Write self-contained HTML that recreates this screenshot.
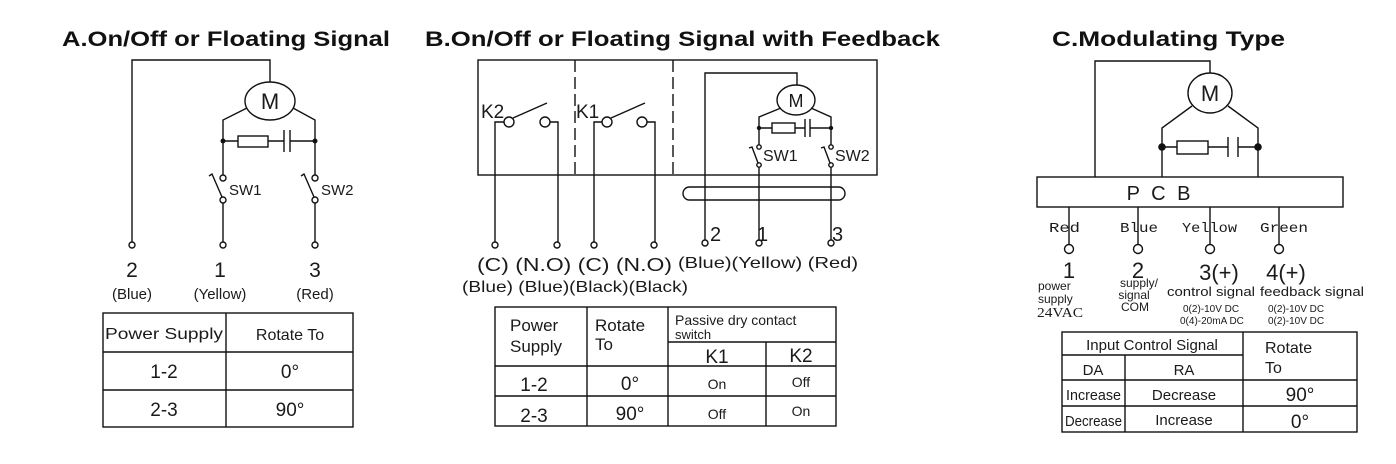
<!DOCTYPE html>
<html><head><meta charset="utf-8"><style>
html,body{margin:0;padding:0;background:#fff;}
svg{display:block;}
text{font-family:"Liberation Sans",Arial,sans-serif;fill:#1a1a1a;}
.t{font-weight:bold;font-size:21px;fill:#111;}
.mono{font-family:"Liberation Mono","DejaVu Sans Mono",monospace;}
.serif{font-family:"Liberation Serif",serif;}
</style></head><body>
<svg width="1396" height="464" viewBox="0 0 1396 464" xmlns="http://www.w3.org/2000/svg">
<rect width="1396" height="464" fill="#fff"/>
<g stroke="#111" stroke-width="1.4" fill="none">
<!-- ===== A ===== -->
<path d="M132,242 V60 H270 V82"/>
<ellipse cx="270" cy="101" rx="25" ry="19"/>
<path d="M247,108 L223,120 V175"/>
<path d="M293,108 L315,120 V175"/>
<path d="M223,141 H238 M268,141 H284 M290,141 H315"/>
<rect x="238" y="136" width="30" height="11"/>
<path d="M284,130 V152 M290,130 V152"/>
<circle cx="223" cy="178" r="3"/><circle cx="223" cy="200" r="3"/>
<path d="M222,197 L212,174 L209,176"/>
<path d="M223,203 V242"/>
<circle cx="315" cy="178" r="3"/><circle cx="315" cy="200" r="3"/>
<path d="M314,197 L304,174 L301,176"/>
<path d="M315,203 V242"/>
<circle cx="132" cy="245" r="3"/><circle cx="223" cy="245" r="3"/><circle cx="315" cy="245" r="3"/>
<rect x="103" y="313" width="250" height="114"/>
<path d="M226,313 V427 M103,352 H353 M103,390 H353"/>
<!-- ===== B ===== -->
<rect x="478" y="60" width="399" height="115"/>
<path d="M575,60 V175 M673,60 V175" stroke-dasharray="12,5"/>
<circle cx="509" cy="122" r="5"/><circle cx="545" cy="122" r="5"/>
<path d="M513,118 L547,103"/>
<path d="M504,122 H495 V242 M550,122 H558 V242"/>
<circle cx="607" cy="122" r="5"/><circle cx="642" cy="122" r="5"/>
<path d="M611,118 L645,103"/>
<path d="M602,122 H594 V242 M647,122 H655 V242"/>
<circle cx="495" cy="245" r="3"/><circle cx="557" cy="245" r="3"/><circle cx="594" cy="245" r="3"/><circle cx="654" cy="245" r="3"/>
<path d="M705,240 V73 H797 V85"/>
<ellipse cx="796" cy="100" rx="19" ry="15"/>
<path d="M781,108 L759,117 V145"/>
<path d="M811,108 L831,117 V145"/>
<path d="M759,128 H772 M795,128 H805 M810,128 H831"/>
<rect x="772" y="123" width="23" height="10"/>
<path d="M805,119 V137 M810,119 V137"/>
<circle cx="759" cy="147" r="2.2"/><circle cx="759" cy="165" r="2.2"/>
<path d="M758,163 L752,147 L749,148"/>
<path d="M759,167 V240"/>
<circle cx="831" cy="147" r="2.2"/><circle cx="831" cy="165" r="2.2"/>
<path d="M830,163 L824,147 L821,148"/>
<path d="M831,167 V240"/>
<circle cx="705" cy="243" r="3"/><circle cx="759" cy="243" r="3"/><circle cx="831" cy="243" r="3"/>
<rect x="683" y="187" width="162" height="13" rx="6.5"/>
<rect x="495" y="307" width="341" height="119"/>
<path d="M587,307 V426 M668,307 V426 M766,342 V426 M668,342 H836 M495,366 H836 M495,396 H836"/>
<!-- ===== C ===== -->
<path d="M1095,177 V61 H1210 V73"/>
<ellipse cx="1210" cy="93" rx="22" ry="20"/>
<path d="M1192,106 L1162,128 V177"/>
<path d="M1228,106 L1258,128 V177"/>
<path d="M1162,147 H1177 M1208,147 H1228 M1238,147 H1258"/>
<rect x="1177" y="141" width="31" height="13"/>
<path d="M1228,137 V157 M1238,137 V157"/>
<rect x="1037" y="177" width="306" height="30"/>
<path d="M1069,207 V244 M1138,207 V244 M1210,207 V244 M1279,207 V244"/>
<circle cx="1069" cy="249" r="4.5"/><circle cx="1138" cy="249" r="4.5"/><circle cx="1210" cy="249" r="4.5"/><circle cx="1279" cy="249" r="4.5"/>
<rect x="1062" y="332" width="295" height="100"/>
<path d="M1243,332 V432 M1125,355 V432 M1062,355 H1243 M1062,380 H1357 M1062,406 H1357"/>
</g>
<g fill="#111">
<circle cx="223" cy="141" r="2.5"/><circle cx="315" cy="141" r="2.5"/>
<circle cx="759" cy="128" r="2.2"/><circle cx="831" cy="128" r="2.2"/>
<circle cx="1162" cy="147" r="3.8"/><circle cx="1258" cy="147" r="3.8"/>
</g>
<!-- titles -->
<text class="t" x="62" y="46" textLength="328" lengthAdjust="spacingAndGlyphs">A.On/Off or Floating Signal</text>
<text class="t" x="425" y="46" textLength="515" lengthAdjust="spacingAndGlyphs">B.On/Off or Floating Signal with Feedback</text>
<text class="t" x="1052" y="46" textLength="233" lengthAdjust="spacingAndGlyphs">C.Modulating Type</text>
<!-- A labels -->
<text x="270" y="109" font-size="22" text-anchor="middle">M</text>
<text x="229" y="195" font-size="15">SW1</text>
<text x="321" y="195" font-size="15">SW2</text>
<text x="132" y="277" font-size="21" text-anchor="middle">2</text>
<text x="220" y="277" font-size="21" text-anchor="middle">1</text>
<text x="315" y="277" font-size="21" text-anchor="middle">3</text>
<text x="132" y="299" font-size="15" text-anchor="middle">(Blue)</text>
<text x="220" y="299" font-size="15" text-anchor="middle">(Yellow)</text>
<text x="315" y="299" font-size="15" text-anchor="middle">(Red)</text>
<text x="164" y="339" font-size="16" text-anchor="middle" textLength="118" lengthAdjust="spacingAndGlyphs">Power Supply</text>
<text x="290" y="340" font-size="16" text-anchor="middle">Rotate To</text>
<text x="164" y="378" font-size="19" text-anchor="middle">1-2</text>
<text x="290" y="378" font-size="19" text-anchor="middle">0°</text>
<text x="164" y="416" font-size="19" text-anchor="middle">2-3</text>
<text x="290" y="416" font-size="19" text-anchor="middle">90°</text>
<!-- B labels -->
<text x="481" y="118" font-size="19">K2</text>
<text x="576" y="118" font-size="19">K1</text>
<text x="796" y="107" font-size="18" text-anchor="middle">M</text>
<text x="763" y="161" font-size="16">SW1</text>
<text x="835" y="161" font-size="16">SW2</text>
<text x="710" y="241" font-size="20">2</text>
<text x="757" y="241" font-size="20">1</text>
<text x="832" y="241" font-size="20">3</text>
<text x="477" y="271" font-size="18" textLength="195" lengthAdjust="spacingAndGlyphs">(C) (N.O) (C) (N.O)</text>
<text x="678" y="268" font-size="16" textLength="180" lengthAdjust="spacingAndGlyphs">(Blue)(Yellow) (Red)</text>
<text x="462" y="292" font-size="16" textLength="226" lengthAdjust="spacingAndGlyphs">(Blue) (Blue)(Black)(Black)</text>
<text x="510" y="331" font-size="17">Power</text>
<text x="510" y="352" font-size="17">Supply</text>
<text x="595" y="331" font-size="17">Rotate</text>
<text x="595" y="350" font-size="17">To</text>
<text x="675" y="325" font-size="14">Passive dry contact</text>
<text x="675" y="339" font-size="13">switch</text>
<text x="717" y="363" font-size="19" text-anchor="middle">K1</text>
<text x="801" y="362" font-size="19" text-anchor="middle">K2</text>
<text x="534" y="391" font-size="19" text-anchor="middle">1-2</text>
<text x="630" y="390" font-size="19" text-anchor="middle">0°</text>
<text x="717" y="389" font-size="14" text-anchor="middle">On</text>
<text x="801" y="387" font-size="14" text-anchor="middle">Off</text>
<text x="534" y="422" font-size="19" text-anchor="middle">2-3</text>
<text x="630" y="420" font-size="19" text-anchor="middle">90°</text>
<text x="717" y="419" font-size="14" text-anchor="middle">Off</text>
<text x="801" y="416" font-size="14" text-anchor="middle">On</text>
<!-- C labels -->
<text x="1210" y="101" font-size="22" text-anchor="middle">M</text>
<text x="1160" y="200" font-size="20" text-anchor="middle" letter-spacing="3">P C B</text>
<text class="mono" x="1049" y="232" font-size="14" textLength="31" lengthAdjust="spacingAndGlyphs">Red</text>
<text class="mono" x="1120" y="232" font-size="14" textLength="38" lengthAdjust="spacingAndGlyphs">Blue</text>
<text class="mono" x="1182" y="232" font-size="14" textLength="55" lengthAdjust="spacingAndGlyphs">Yellow</text>
<text class="mono" x="1260" y="232" font-size="14" textLength="48" lengthAdjust="spacingAndGlyphs">Green</text>
<text x="1069" y="278" font-size="22" text-anchor="middle">1</text>
<text x="1138" y="278" font-size="22" text-anchor="middle">2</text>
<text x="1219" y="280" font-size="22" text-anchor="middle">3(+)</text>
<text x="1286" y="280" font-size="22" text-anchor="middle">4(+)</text>
<text x="1038" y="290" font-size="12">power</text>
<text x="1038" y="303" font-size="12">supply</text>
<text class="serif" x="1037" y="317" font-size="14" textLength="46" lengthAdjust="spacingAndGlyphs">24VAC</text>
<text x="1139" y="287" font-size="12" text-anchor="middle">supply/</text>
<text x="1134" y="299" font-size="12" text-anchor="middle">signal</text>
<text x="1135" y="311" font-size="12" text-anchor="middle">COM</text>
<text x="1167" y="296" font-size="13" textLength="88" lengthAdjust="spacingAndGlyphs">control signal</text>
<text x="1260" y="296" font-size="13" textLength="104" lengthAdjust="spacingAndGlyphs">feedback signal</text>
<text x="1183" y="312" font-size="10">0(2)-10V DC</text>
<text x="1268" y="312" font-size="10">0(2)-10V DC</text>
<text x="1180" y="324" font-size="10">0(4)-20mA DC</text>
<text x="1268" y="324" font-size="10">0(2)-10V DC</text>
<text x="1152" y="350" font-size="15" text-anchor="middle">Input Control Signal</text>
<text x="1093" y="375" font-size="15" text-anchor="middle">DA</text>
<text x="1184" y="375" font-size="15" text-anchor="middle">RA</text>
<text x="1265" y="353" font-size="16">Rotate</text>
<text x="1265" y="373" font-size="16">To</text>
<text x="1066" y="400" font-size="15" textLength="55" lengthAdjust="spacingAndGlyphs">Increase</text>
<text x="1184" y="400" font-size="15" text-anchor="middle">Decrease</text>
<text x="1300" y="401" font-size="19" text-anchor="middle">90°</text>
<text x="1065" y="426" font-size="15" textLength="57" lengthAdjust="spacingAndGlyphs">Decrease</text>
<text x="1184" y="425" font-size="15" text-anchor="middle">Increase</text>
<text x="1300" y="428" font-size="19" text-anchor="middle">0°</text>
</svg>
</body></html>
